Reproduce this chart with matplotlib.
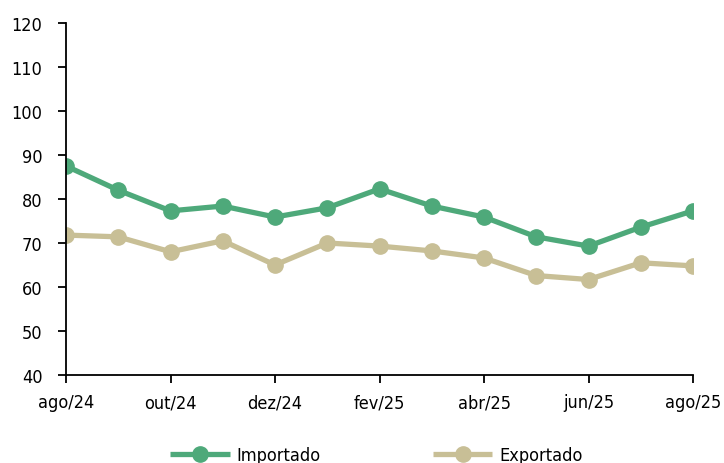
import matplotlib.pyplot as plt

months = ['ago/24', 'set/24', 'out/24', 'nov/24', 'dez/24', 'jan/25', 'fev/25',
          'mar/25', 'abr/25', 'mai/25', 'jun/25', 'jul/25', 'ago/25']
importado = [87.5, 82.0, 77.3, 78.4, 75.9, 78.0, 82.3, 78.4, 75.9, 71.4, 69.3, 73.6, 77.3]
exportado = [71.8, 71.4, 68.0, 70.5, 65.0, 70.0, 69.3, 68.2, 66.6, 62.6, 61.7, 65.5, 64.8]

plt.rcParams['font.family'] = ['DejaVu Sans']
plt.rcParams['font.stretch'] = 'condensed'

fig = plt.figure(figsize=(7.24, 4.64), dpi=100)
ax = fig.add_axes([66 / 724, 88 / 464, 627 / 724, 352 / 464])

x = list(range(len(months)))
ax.plot(x, importado, color='#4ea97a', lw=3.8, marker='o', ms=11, label='Importado',
        solid_capstyle='butt')
ax.plot(x, exportado, color='#c8bf96', lw=3.8, marker='o', ms=11, label='Exportado',
        solid_capstyle='butt')

ax.set_xlim(0, 12)
ax.set_ylim(40, 120)
ax.set_yticks(range(40, 121, 10))
ax.set_xticks(x[::2])
ax.set_xticklabels(months[::2])
ax.tick_params(labelsize=13, length=6, width=1.3, colors='black')
ax.tick_params(axis='x', pad=7)
ax.tick_params(axis='y', pad=11)
for s in ['top', 'right']:
    ax.spines[s].set_visible(False)
for s in ['left', 'bottom']:
    ax.spines[s].set_linewidth(1.3)

leg = fig.legend(loc='center', bbox_to_anchor=(0.52, 8 / 464), ncol=2,
                 frameon=False, fontsize=13, columnspacing=6.2, handlelength=3.3,
                 handletextpad=0.4)

plt.savefig('out.png', dpi=100)
